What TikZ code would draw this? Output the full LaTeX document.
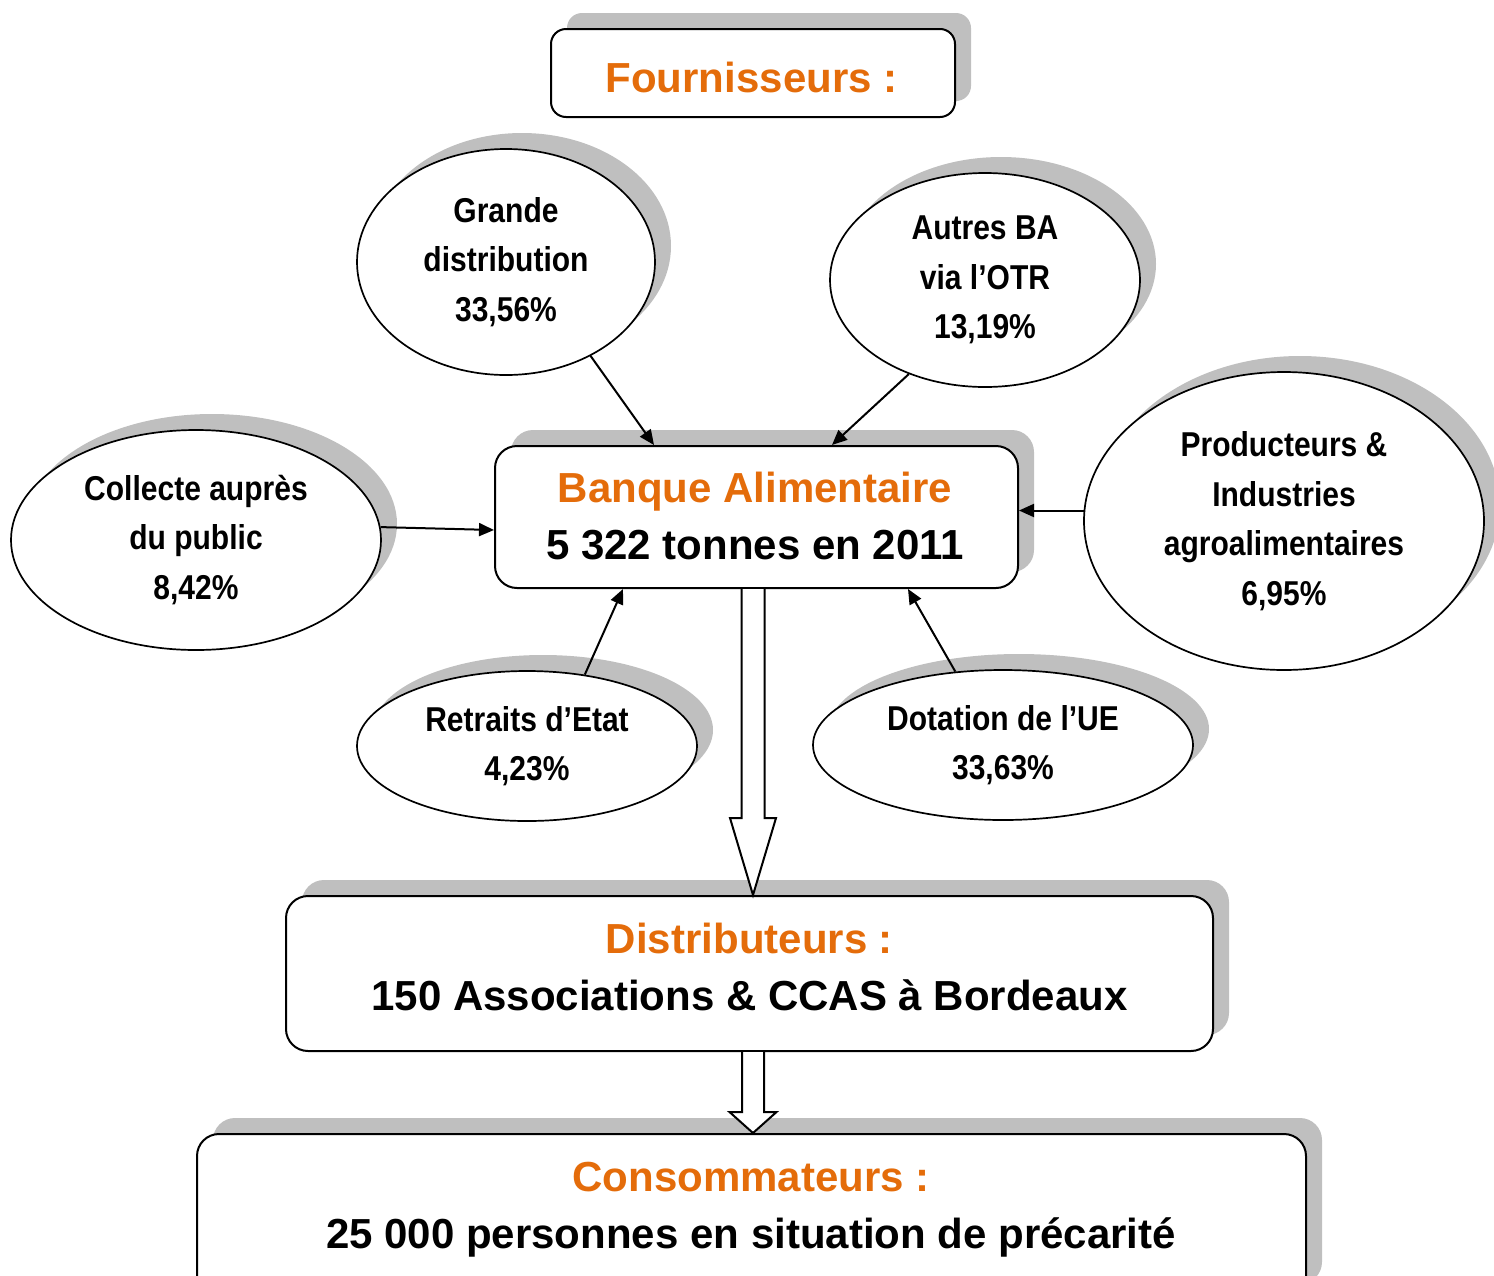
\documentclass[tikz,border=0pt]{standalone}
\usepackage{fontspec}
\setmainfont{Liberation Sans}
\newfontfamily\narrowfont[FakeStretch=0.87]{Liberation Sans}
\usetikzlibrary{shapes.geometric,shadows,arrows.meta,calc}
\definecolor{orng}{RGB}{228,108,10}
\definecolor{shgrey}{RGB}{191,191,191}
\begin{document}
\begin{tikzpicture}[x=1pt,y=-1pt,
  shad/.style={drop shadow={shadow xshift=16pt,shadow yshift=16pt,fill=shgrey,opacity=1}},
  bubble/.style={ellipse,draw,line width=1.7pt,fill=white,shad,inner sep=0pt,align=center,
    font=\narrowfont\bfseries\fontsize{34.5}{49.5}\selectfont},
  panel/.style={rectangle,rounded corners=22pt,draw,line width=2pt,fill=white,shad,inner sep=0pt},
  boxtxt/.style={align=center,inner sep=0pt,font=\bfseries\fontsize{42}{57}\selectfont},
  feed/.style={line width=2pt,-{Triangle[length=15pt,width=13pt]}},
  hollow/.style={line width=2pt,fill=white,line join=miter}
]
\useasboundingbox (0,0) rectangle (1494,1275);

% boxes
\node[panel,rounded corners=15pt,minimum width=404pt,minimum height=88pt] (four) at (753,73) {};
\node[boxtxt,text=orng] (fourT) at (751.5,77) {Fournisseurs :};

\node[panel,minimum width=523pt,minimum height=142pt] (ba) at (756.5,517) {};
\node[boxtxt] (baT) at (755,516) {\textcolor{orng}{Banque Alimentaire}\\5 322 tonnes en 2011};

\node[panel,minimum width=927pt,minimum height=155pt] (dist) at (749.5,973.5) {};
\node[boxtxt] (distT) at (749.5,967) {\textcolor{orng}{Distributeurs :}\\150 Associations \& CCAS à Bordeaux};

\node[panel,minimum width=1109pt,minimum height=166pt] (cons) at (751.5,1217) {};
\node[boxtxt] (consT) at (751,1210) {\textcolor{orng}{Consommateurs :}\\25 000 personnes en situation de précarité};

% ellipses
\node[bubble,minimum width=298pt,minimum height=226pt] (gd) at (506,262) {Grande\\distribution\\33,56\%};
\node[bubble,minimum width=310pt,minimum height=214pt] (ab) at (985,280) {Autres BA\\via l’OTR\\13,19\%};
\node[bubble,minimum width=370pt,minimum height=220pt] (co) at (196,540) {Collecte auprès\\du public\\8,42\%};
\node[bubble,minimum width=400pt,minimum height=298pt] (pr) at (1284,521) {Producteurs \&\\Industries\\agroalimentaires\\6,95\%};
\node[bubble,minimum width=340pt,minimum height=150pt] (re) at (527,746) {Retraits d’Etat\\4,23\%};
\node[bubble,minimum width=380pt,minimum height=150pt] (do) at (1003,745) {Dotation de l’UE\\33,63\%};

% feeding arrows
\draw[feed] (gd.-48) -- ($(ba.north west)+(160,0)$);
\draw[feed] (ab.-129) -- ($(ba.north west)+(338,0)$);
\draw[feed] (co.4) -- ($(ba.north west)+(0,85)$);
\draw[feed] (pr.177) -- (pr.177 -| ba.east);
\draw[feed] (re.51) -- ($(ba.south west)+(129,0)$);
\draw[feed] (do.123) -- ($(ba.south west)+(414,0)$);

% hollow arrows
\coordinate (axis) at (753,0);
\path (ba.south -| axis) coordinate (s1) (dist.north -| axis) coordinate (e1);
\path (dist.south -| axis) coordinate (s2) (cons.north -| axis) coordinate (e2);
\draw[hollow] ($(s1)+(-11.5,0)$) -- ($(e1)+(-11.5,-77)$) -- ($(e1)+(-23,-77)$) -- (e1)
  -- ($(e1)+(23,-77)$) -- ($(e1)+(11.5,-77)$) -- ($(s1)+(11.5,0)$);
\draw[hollow] ($(s2)+(-11,0)$) -- ($(e2)+(-11,-21)$) -- ($(e2)+(-23.5,-21)$) -- (e2)
  -- ($(e2)+(23.5,-21)$) -- ($(e2)+(11,-21)$) -- ($(s2)+(11,0)$);
\end{tikzpicture}
\end{document}
